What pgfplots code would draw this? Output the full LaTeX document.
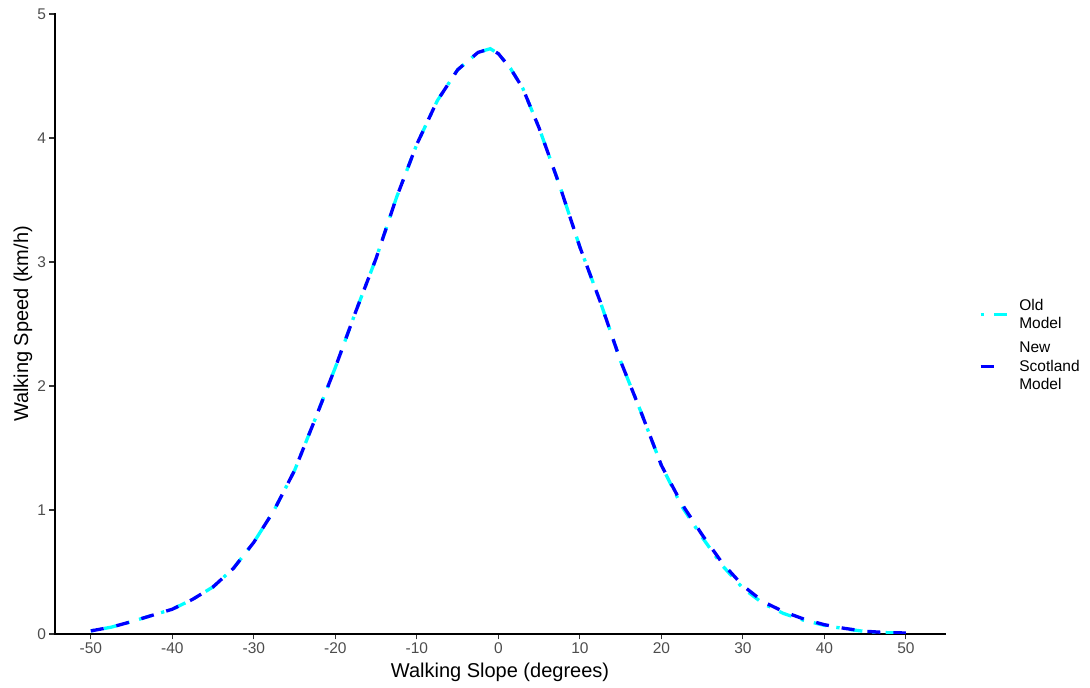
\documentclass[border=0pt]{standalone}
\usepackage{pgfplots}
\pgfplotsset{compat=1.18}
\usepackage{fontspec}
\setmainfont{Liberation Sans}
\definecolor{tickgray}{HTML}{4D4D4D}
\definecolor{tickline}{HTML}{333333}
\definecolor{oldcol}{HTML}{00FFFF}
\definecolor{newcol}{HTML}{0000FF}
\begin{document}
\begin{tikzpicture}
\begin{axis}[
  name=ax,
  scale only axis, width=890pt, height=620pt,
  xmin=-54.4, xmax=54.8, ymin=0, ymax=5,
  axis x line*=bottom, axis y line*=left,
  axis line style={black, line width=1.6pt, -, line cap=rect},
  xtick={-50,-40,...,50},
  xticklabels={-50,-40,-30,-20,-10,0,10,20,30,40,50},
  ytick={0,1,2,3,4,5},
  yticklabels={0,1,2,3,4,5},
  tick style={tickline, line width=1.2pt},
  tick align=outside, major tick length=5.5pt,
  ticklabel style={font=\fontsize{15.5}{18}\selectfont, text=tickgray},
  xlabel={Walking Slope (degrees)},
  label style={font=\fontsize{20}{24}\selectfont},
  xlabel style={at={(axis description cs:0.5,0)}, anchor=base, yshift=-44pt},
  legend style={
    at={(axis description cs:1.038,0.466)}, anchor=west,
    draw=none, fill=none, inner sep=0pt,
    font=\fontsize{15.5}{18.5}\selectfont,
    cells={align=left, anchor=west},
    row sep=8pt, column sep=9pt,
  },
  legend image code/.code={\draw[#1] (0pt,0pt) -- (26pt,0pt);},
]
\addplot[oldcol, line width=3.3pt, dash pattern=on 3.3pt off 10pt on 13pt off 10pt] coordinates {
(-50,0.025) (-47.5,0.055) (-45,0.10) (-42.5,0.15) (-40,0.20) (-37.5,0.28) (-35,0.38)
(-32.5,0.53) (-30,0.74) (-27.5,1.00) (-25,1.32) (-22.5,1.73) (-20,2.15) (-17.5,2.60)
(-15,3.03) (-12.5,3.52) (-10,3.95) (-7.5,4.30) (-5,4.55) (-2.5,4.69) (-1,4.72)
(0,4.68) (1.5,4.56) (3,4.40) (5,4.08) (7.5,3.62) (10,3.12) (12.5,2.68) (15,2.20)
(17.5,1.79) (20,1.36) (22.5,1.03) (25,0.78) (27.5,0.55) (30,0.37) (32.5,0.245)
(35,0.165) (37.5,0.11) (40,0.07) (42.5,0.042) (45,0.02) (47.5,0.011) (50,0.008)
};
\addlegendentry{Old\\Model}
\addplot[newcol, line width=3.3pt, dash pattern=on 13pt off 13pt] coordinates {
(-50,0.025) (-47.5,0.055) (-45,0.10) (-42.5,0.15) (-40,0.20) (-37.5,0.28) (-35,0.38)
(-32.5,0.53) (-30,0.74) (-27.5,1.00) (-25,1.32) (-22.5,1.73) (-20,2.15) (-17.5,2.60)
(-15,3.03) (-12.5,3.52) (-10,3.95) (-7.5,4.30) (-5,4.55) (-2.5,4.69) (-1,4.72)
(0,4.68) (1.5,4.56) (3,4.40) (5,4.08) (7.5,3.62) (10,3.12) (12.5,2.68) (15,2.20)
(17.5,1.79) (20,1.36) (22.5,1.05) (25,0.80) (27.5,0.57) (30,0.39) (32.5,0.26)
(35,0.18) (37.5,0.12) (40,0.075) (42.5,0.045) (45,0.022) (47.5,0.012) (50,0.008)
};
\addlegendentry{New\\Scotland\\Model}
\end{axis}
\node[rotate=90, anchor=base, font=\fontsize{20}{24}\selectfont] at ([xshift=-27pt]ax.west) {Walking Speed (km/h)};
\pgfresetboundingbox
\path ([xshift=-55pt,yshift=-54pt]ax.south west) rectangle ([xshift=145pt,yshift=14pt]ax.north east);
\end{tikzpicture}
\end{document}
